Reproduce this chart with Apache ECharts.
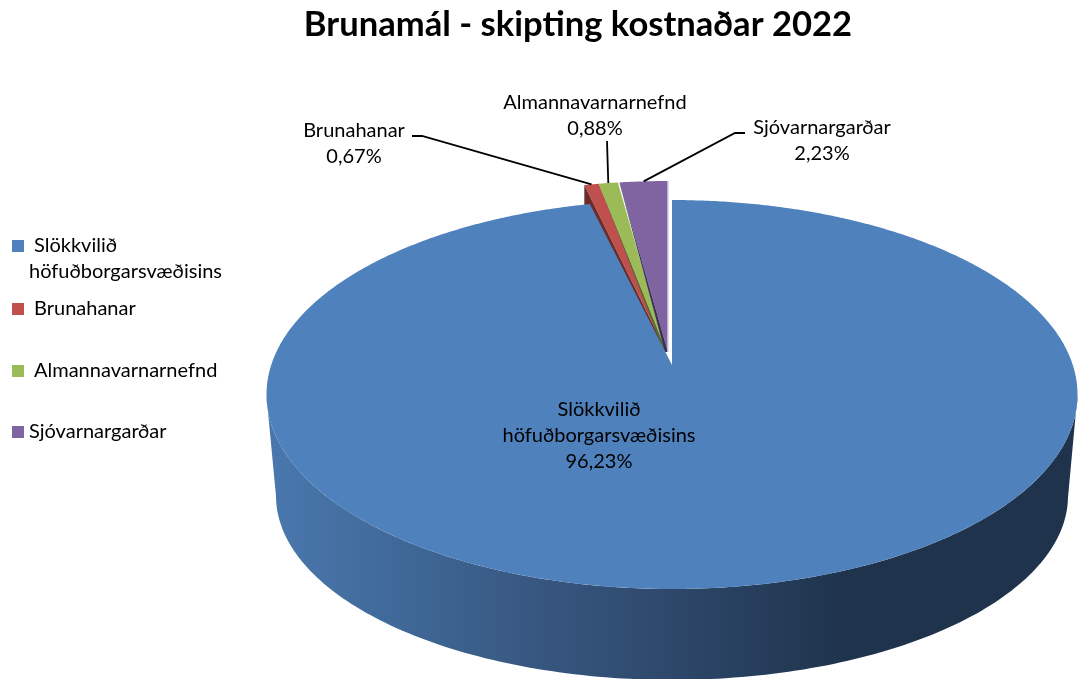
<!DOCTYPE html>
<html>
<head>
<meta charset="utf-8">
<title>Brunamál - skipting kostnaðar 2022</title>
<style>
    html, body { margin: 0; padding: 0; background: #fff; }
    #chart { width: 1078px; height: 679px; }
</style>
<script src="https://cdn.jsdelivr.net/npm/echarts@6/dist/echarts.min.js"></script>
</head>
<body>
<div id="chart"></div>
<script>
'use strict';

var titleText = 'Brunamál - skipting kostnaðar 2022';
var categories = ['Slökkvilið höfuðborgarsvæðisins', 'Brunahanar', 'Almannavarnarnefnd', 'Sjóvarnargarðar'];
var shares = [96.23, 0.67, 0.88, 2.23];
var colors = ['#4f81bd', '#c0504d', '#9bbb59', '#8064a2'];

var FONT = 'Lato, "Open Sans", sans-serif';
var LABEL_SIZE = 20;

// perspective of the pie plane, v = 1 is the edge nearest the viewer
var CX = 672, CY = 365, RX = 400.8, RY = 190, PERSP = 0.1517;
var BOTTOM_CY = 468, BOTTOM_RX = RX * 0.9766, BOTTOM_RY = RY * 0.946;

// how far each slice is pulled out of the pie: rim x, rim y, apex y
var sliceShift = [[0, 0, 0], [-5.5, -19, -13], [-5.5, -19, -13], [-4, -19, -13]];
// dark cut wall left of each pulled slice: depth at the rim, width at the apex, colour
var cutWall = [null, [20, 3, '#6e2b2a'], [0, 2.5, '#566a31'], [0, 3, '#3d3058']];

var legendPos = [[12, 246, 34], [12, 309, 34], [12, 371, 34], [12, 432, 29]];
var legendLines = [['Slökkvilið', 'höfuðborgarsvæðisins'], ['Brunahanar'], ['Almannavarnarnefnd'], ['Sjóvarnargarðar']];

// label centre, first line y, leader line start
var labelPos = [
    [599, 410, null],
    [354, 131, [[412, 136], [422, 136]]],
    [595, 103, [[607, 141]]],
    [822, 128, [[745, 133], [735, 133]]]
];
var labelLines = [['Slökkvilið', 'höfuðborgarsvæðisins'], ['Brunahanar'], ['Almannavarnarnefnd'], ['Sjóvarnargarðar']];

function project(deg, cx, cy, rx, ry) {
    var rad = deg * Math.PI / 180;
    var u = Math.sin(rad);
    var v = -Math.cos(rad);
    var w = 1 - PERSP * v;
    return [cx + rx * u / w, cy + ry * v / w];
}

function topPoint(deg, shift) {
    var p = project(deg, CX, CY, RX, RY);
    return [p[0] + shift[0], p[1] + shift[1]];
}

function sectorPoints(from, to, shift) {
    var pts = [[CX + shift[0], CY + shift[2]]];
    var deg = from;
    while (deg < to) {
        pts.push(topPoint(deg, shift));
        deg += 0.5;
    }
    pts.push(topPoint(to, shift));
    return pts;
}

var total = shares.reduce(function (a, b) { return a + b; }, 0);
var startAngles = [];
var endAngles = [];
shares.reduce(function (sum, val, i) {
    startAngles[i] = sum / total * 360;
    endAngles[i] = (sum + val) / total * 360;
    return sum + val;
}, 0);

function percentText(val) {
    return val.toFixed(2).replace('.', ',') + '%';
}

function renderWall() {
    var edge = Math.acos(-PERSP) * 180 / Math.PI;
    var pts = [];
    var deg;
    for (deg = edge; deg <= 360 - edge; deg += 1) {
        pts.push(project(deg, CX, CY, RX, RY));
    }
    for (deg = 360 - edge; deg >= edge; deg -= 1) {
        pts.push(project(deg, CX, BOTTOM_CY, BOTTOM_RX, BOTTOM_RY));
    }
    return {
        type: 'polygon',
        shape: { points: pts },
        style: {
            fill: new echarts.graphic.LinearGradient(0, 0, 1, 0, [
                { offset: 0, color: '#4a78ae' },
                { offset: 0.17, color: '#3f6897' },
                { offset: 0.34, color: '#37567f' },
                { offset: 0.55, color: '#2a4364' },
                { offset: 0.71, color: '#1f344c' },
                { offset: 1, color: '#1f344c' }
            ])
        }
    };
}

function renderSlice(params, api) {
    var i = params.dataIndex;
    var from = api.value(1);
    var to = api.value(2);
    var shift = sliceShift[i];
    var pts = sectorPoints(from, to, shift);
    var children = [{
        type: 'polygon',
        z2: i === 0 ? 5 : 1,
        shape: { points: pts },
        style: { fill: colors[i] }
    }];
    var wall = cutWall[i];
    if (wall) {
        var outer = topPoint(from, shift);
        var apex = pts[0];
        var wallPts = [outer];
        if (wall[0]) {
            wallPts.push([outer[0], outer[1] + wall[0]]);
        }
        wallPts.push([apex[0] - wall[1], apex[1]], apex);
        children.push({
            type: 'polygon',
            z2: 2,
            shape: { points: wallPts },
            style: { fill: wall[2] }
        });
    }
    // the last slice has a pale rim along its free edge
    if (i === shares.length - 1) {
        children.push({
            type: 'polyline',
            z2: 3,
            shape: { points: [pts[pts.length - 2], pts[pts.length - 1], pts[0]] },
            style: { stroke: '#d6cde2', lineWidth: 1.5, fill: null }
        });
    }
    return { type: 'group', children: children };
}

function buildGraphic() {
    var items = [];
    categories.forEach(function (name, i) {
        var leg = legendPos[i];
        items.push({
            type: 'rect',
            shape: { x: leg[0], y: leg[1] - 6, width: 12, height: 12 },
            style: { fill: colors[i] }
        });
        legendLines[i].forEach(function (line, n) {
            items.push({
                type: 'text',
                x: n === 0 ? leg[2] : 29,
                y: leg[1] + n * 26,
                style: { text: line, font: LABEL_SIZE + 'px ' + FONT, fill: '#000', textVerticalAlign: 'middle' }
            });
        });

        var lab = labelPos[i];
        var lines = labelLines[i].concat(percentText(shares[i]));
        lines.forEach(function (line, n) {
            items.push({
                type: 'text',
                z: 10,
                x: lab[0],
                y: lab[1] + n * 26,
                style: { text: line, font: LABEL_SIZE + 'px ' + FONT, fill: '#000', textAlign: 'center', textVerticalAlign: 'middle' }
            });
        });
        if (lab[2]) {
            var mid = topPoint((startAngles[i] + endAngles[i]) / 2, sliceShift[i]);
            items.push({
                type: 'polyline',
                z: 10,
                shape: { points: lab[2].concat([mid]) },
                style: { stroke: '#000', lineWidth: 1.8, fill: null }
            });
        }
    });
    return items;
}

var chart = echarts.init(document.getElementById('chart'));

chart.setOption({
    animation: false,
    backgroundColor: '#fff',
    title: {
        text: titleText,
        left: 573,
        top: 2,
        textAlign: 'center',
        textStyle: { fontFamily: FONT, fontSize: 34.6, fontWeight: 'bold', color: '#000' }
    },
    graphic: buildGraphic(),
    series: [{
        type: 'custom',
        name: 'wall',
        coordinateSystem: 'none',
        silent: true,
        z: 1,
        data: [[0]],
        renderItem: renderWall
    }, {
        type: 'custom',
        name: titleText,
        coordinateSystem: 'none',
        z: 2,
        data: shares.map(function (val, i) {
            return { name: categories[i], value: [val, startAngles[i], endAngles[i]] };
        }),
        renderItem: renderSlice
    }]
});
</script>
</body>
</html>
